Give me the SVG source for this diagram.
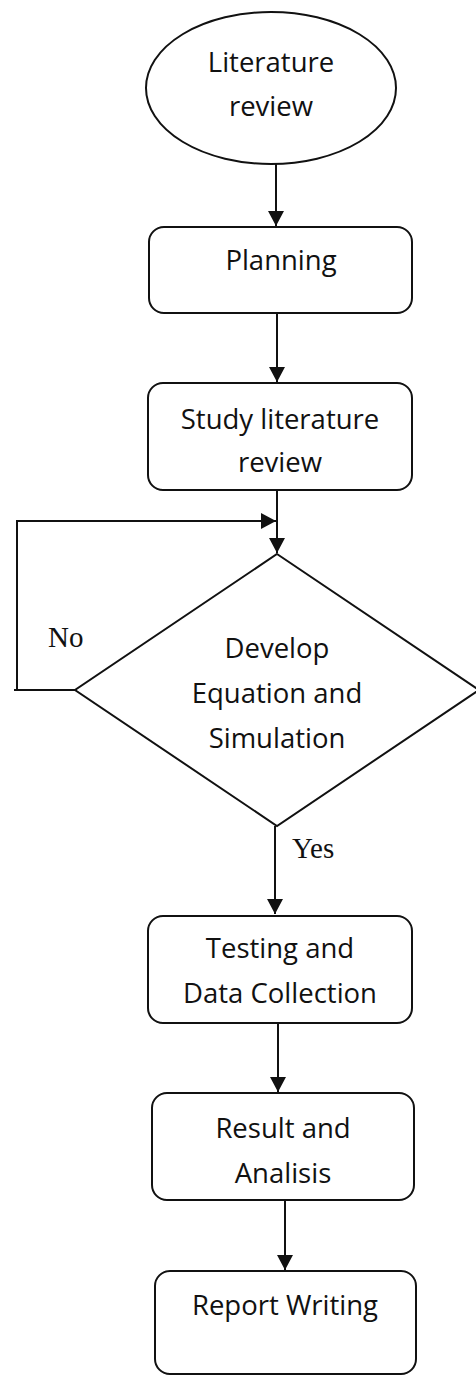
<svg xmlns="http://www.w3.org/2000/svg" width="476" height="1376" viewBox="0 0 476 1376">
<defs>
<style>
.shape{fill:#fff;stroke:#111;stroke-width:2}
.line{fill:none;stroke:#111;stroke-width:2}
.t{font-family:"Open Sans","Noto Sans",sans-serif;font-size:27.5px;fill:#111;text-anchor:middle}
.s{font-family:"Liberation Serif","Times New Roman",serif;font-size:29px;fill:#111}
</style>
<marker id="arr" markerWidth="16" markerHeight="16" refX="15" refY="8" orient="auto" markerUnits="userSpaceOnUse">
<path d="M0,0 L15,8 L0,16 Z" fill="#111"/>
</marker>
</defs>
<rect width="476" height="1376" fill="#fff"/>
<g id="connectors">
<line class="line" x1="276" y1="164" x2="276" y2="226" marker-end="url(#arr)"/>
<line class="line" x1="277" y1="313" x2="277" y2="382" marker-end="url(#arr)"/>
<line class="line" x1="277" y1="490" x2="277" y2="553" marker-end="url(#arr)"/>
<polyline class="line" points="75,690 14,690"/>
<polyline class="line" points="17,690 17,521 276,521" marker-end="url(#arr)"/>
<line class="line" x1="275" y1="826" x2="275" y2="914" marker-end="url(#arr)"/>
<line class="line" x1="278" y1="1023" x2="278" y2="1092" marker-end="url(#arr)"/>
<line class="line" x1="285" y1="1200" x2="285" y2="1270" marker-end="url(#arr)"/>
<text class="s" x="48" y="647">No</text>
<text class="s" x="292" y="858">Yes</text>
</g>
<g id="n1">
<ellipse class="shape" cx="271" cy="88" rx="125" ry="76"/>
<text class="t" x="271" y="72">Literature</text>
<text class="t" x="271" y="116">review</text>
</g>
<g id="n2">
<rect class="shape" x="149" y="227" width="263" height="86" rx="15"/>
<text class="t" x="281" y="270">Planning</text>
</g>
<g id="n3">
<rect class="shape" x="148" y="383" width="264" height="107" rx="15"/>
<text class="t" x="280" y="429">Study literature</text>
<text class="t" x="280" y="472">review</text>
</g>
<g id="n4">
<polygon class="shape" points="277,554 479,690 277,826 75,690"/>
<text class="t" x="277" y="658">Develop</text>
<text class="t" x="277" y="703">Equation and</text>
<text class="t" x="277" y="748">Simulation</text>
</g>
<g id="n5">
<rect class="shape" x="148" y="916" width="264" height="107" rx="15"/>
<text class="t" x="280" y="958">Testing and</text>
<text class="t" x="280" y="1003">Data Collection</text>
</g>
<g id="n6">
<rect class="shape" x="152" y="1093" width="262" height="107" rx="15"/>
<text class="t" x="283" y="1138">Result and</text>
<text class="t" x="283" y="1183">Analisis</text>
</g>
<g id="n7">
<rect class="shape" x="155" y="1271" width="261" height="103" rx="15"/>
<text class="t" x="285" y="1315">Report Writing</text>
</g>
</svg>
